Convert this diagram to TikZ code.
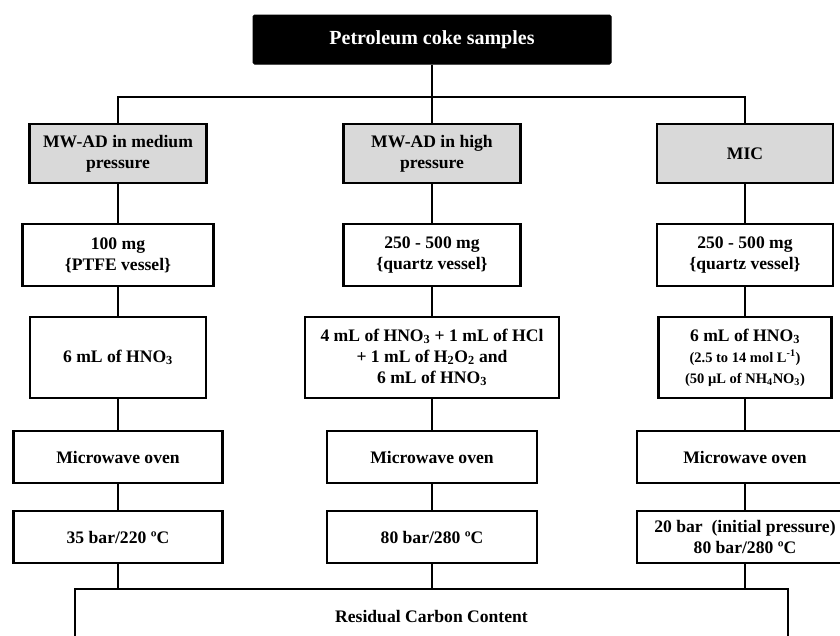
\documentclass[tikz,border=0pt]{standalone}
\usepackage{fontspec}
\setmainfont{Liberation Serif}
\usepackage{tikz}
\definecolor{boxgrey}{RGB}{217,217,217}
\newcommand{\minorsize}{\fontsize{14.5}{19}\selectfont}

\begin{document}
\begin{tikzpicture}[x=1pt, y=-1pt,
    box/.style = {draw, line width=2.4pt, fill=white, align=center, inner sep=2pt,
                  font=\bfseries\fontsize{17.6}{21}\selectfont},
    grey/.style = {box, fill=boxgrey},
    head/.style = {draw, fill=black, text=white, rounded corners=1.5pt, line width=1pt,
                   font=\bfseries\fontsize{20}{24}\selectfont},
    link/.style = {line width=2.4pt}]
    \clip (0,0) rectangle (840,635);

    \node[head, minimum width=358, minimum height=49] (coke) at (432,39.5) {Petroleum coke samples};

    % medium pressure column
    \node[grey, minimum width=177, minimum height=59] (mwm) at (118,153.5) {MW-AD in medium\\pressure};
    \node[box, minimum width=191, minimum height=62] (ptfe) at (118,255) {100 mg\\\{PTFE vessel\}};
    \node[box, minimum width=176, minimum height=81] (acidm) at (118,357.5) {6 mL of HNO\textsubscript{3}};
    \node[box, minimum width=209, minimum height=52] (ovenm) at (118,457) {Microwave oven};
    \node[box, minimum width=209, minimum height=52] (condm) at (118,537) {35 bar/220 ºC};

    % high pressure column
    \node[grey, minimum width=177, minimum height=59] (mwh) at (432,153.5) {MW-AD in high\\pressure};
    \node[box, minimum width=177, minimum height=62] (quartzh) at (432,255) {250 - 500 mg\\\{quartz vessel\}};
    \node[box, minimum width=254, minimum height=81] (acidh) at (432,357.5) {4 mL of HNO\textsubscript{3} + 1 mL of HCl\\+ 1 mL of H\textsubscript{2}O\textsubscript{2} and\\6 mL of HNO\textsubscript{3}};
    \node[box, minimum width=210, minimum height=52] (ovenh) at (432,457) {Microwave oven};
    \node[box, minimum width=210, minimum height=52] (condh) at (432,537) {80 bar/280 ºC};

    % MIC column
    \node[grey, minimum width=176, minimum height=59] (mic) at (745,153.5) {MIC};
    \node[box, minimum width=176, minimum height=62] (quartzc) at (745,255) {250 - 500 mg\\\{quartz vessel\}};
    \node[box, minimum width=173, minimum height=81] (acidc) at (745,357.5) {6 mL of HNO\textsubscript{3}\\{\minorsize (2.5 to 14 mol L\textsuperscript{-1})}\\{\minorsize (50 µL of NH\textsubscript{4}NO\textsubscript{3})}};
    \node[box, minimum width=216, minimum height=52] (ovenc) at (745,457) {Microwave oven};
    \node[box, minimum width=216, minimum height=52] (condc) at (745,537) {20 bar~ (initial pressure)\\80 bar/280 ºC};

    \node[box, minimum width=713, minimum height=54] (res) at (431.5,616) {Residual Carbon Content};

    \coordinate (bus) at (432,97);
    \draw[link] (mwm.north) |- (bus) -| (mic.north);
    \draw[link] (coke) -- (mwh);

    \path[link] (mwm) edge (ptfe) (ptfe) edge (acidm) (acidm) edge (ovenm) (ovenm) edge (condm);
    \path[link] (mwh) edge (quartzh) (quartzh) edge (acidh) (acidh) edge (ovenh) (ovenh) edge (condh);
    \path[link] (mic) edge (quartzc) (quartzc) edge (acidc) (acidc) edge (ovenc) (ovenc) edge (condc);

    \draw[link] (condm) -- (condm |- res.north);
    \draw[link] (condh) -- (condh |- res.north);
    \draw[link] (condc) -- (condc |- res.north);
\end{tikzpicture}
\end{document}
